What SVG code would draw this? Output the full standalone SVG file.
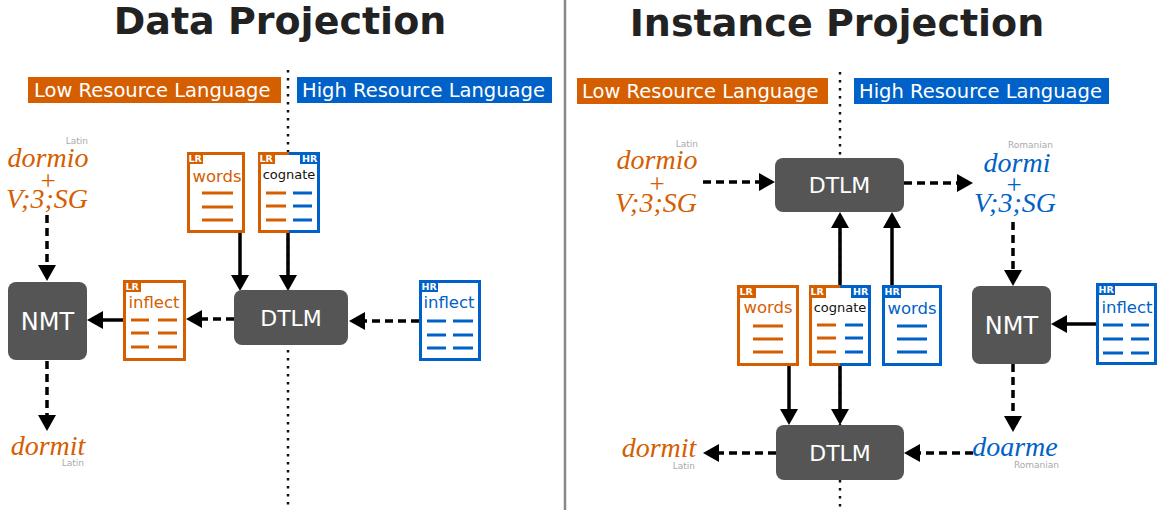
<svg xmlns="http://www.w3.org/2000/svg" width="1162" height="510" viewBox="0 0 1162 510">
<style>
.title{font-family:"DejaVu Sans",sans-serif;font-weight:bold;font-size:38px;fill:#222;text-anchor:middle}
.band{font-family:"DejaVu Sans",sans-serif;font-size:19.5px;fill:#fff}
.box{fill:#555;rx:8px}
.boxt{font-family:"DejaVu Sans",sans-serif;font-size:22px;fill:#fff;text-anchor:middle}
.it{font-family:"Liberation Serif",serif;font-style:italic;font-size:28px;text-anchor:middle}
.pl{font-family:"Liberation Serif",serif;font-size:27px;text-anchor:middle}
.o{fill:#D55E00}
.b{fill:#0062C8}
.lang{font-family:"DejaVu Sans",sans-serif;font-size:9px;fill:#aaa;text-anchor:end}
.doc{fill:#fff;stroke-width:3}
.so{stroke:#D55E00}
.sb{stroke:#0062C8}
.dl{stroke-width:3;fill:none}
.tag{font-family:"DejaVu Sans",sans-serif;font-weight:bold;font-size:9.5px;fill:#fff}
.dt{font-family:"DejaVu Sans",sans-serif;font-size:16.5px;text-anchor:middle}
.cg{font-family:"DejaVu Sans",sans-serif;font-size:13px;fill:#111;text-anchor:middle}
.dot{stroke:#111;stroke-width:2.5;stroke-dasharray:2.5 5.5;fill:none}
.a{stroke:#000;stroke-width:3.5;fill:none;marker-end:url(#ah)}
.d{stroke-dasharray:8 5}
</style>
<defs>
<marker id="ah" markerUnits="userSpaceOnUse" markerWidth="18" markerHeight="18" refX="1" refY="9" orient="auto" viewBox="0 0 18 18">
<path d="M0,0 L16,9 L0,18 z" fill="#000"/>
</marker>
</defs>

<!-- separators -->
<line x1="565" y1="0" x2="565" y2="510" stroke="#888" stroke-width="2.5"/>
<path class="dot" d="M288,70 V510"/>
<path class="dot" d="M840,72 V510"/>

<!-- titles -->
<text class="title" x="280" y="34">Data Projection</text>
<text class="title" x="837" y="36">Instance Projection</text>

<!-- language bands -->
<g id="bands">
<rect x="28" y="77" width="253" height="26" class="o"/>
<text class="band" x="34" y="97">Low Resource Language</text>
<rect x="297" y="77" width="255" height="26" class="b"/>
<text class="band" x="302" y="97">High Resource Language</text>
<rect x="577" y="78" width="251" height="26" class="o"/>
<text class="band" x="582" y="98">Low Resource Language</text>
<rect x="854" y="78" width="255" height="26" class="b"/>
<text class="band" x="859" y="98">High Resource Language</text>
</g>

<!-- connectors -->
<g id="connectors">
<path class="a d" d="M47,215 V266"/>
<path class="a d" d="M47,361 V416"/>
<path class="a" d="M124,320 H102"/>
<path class="a d" d="M234,319 H201"/>
<path class="a d" d="M419,321 H364"/>
<path class="a" d="M240,233 V276"/>
<path class="a" d="M288,233 V276"/>

<path class="a d" d="M703,182 H760"/>
<path class="a d" d="M904,183 H958"/>
<path class="a d" d="M1013,222 V271"/>
<path class="a" d="M1097,324 H1066"/>
<path class="a d" d="M1013,364 V417"/>
<path class="a d" d="M973,453 H919"/>
<path class="a d" d="M776,453 H718"/>
<path class="a" d="M789,366 V410"/>
<path class="a" d="M840,366 V410"/>
<path class="a" d="M840,285 V227"/>
<path class="a" d="M892,285 V227"/>
</g>

<!-- LEFT PANEL -->
<g id="l-dormio">
<text class="lang" x="88" y="144">Latin</text>
<text class="it o" x="48" y="167">dormio</text>
<text class="pl o" x="48" y="190">+</text>
<text class="it o" x="47" y="208">V;3;SG</text>
</g>
<g id="l-nmt">
<rect class="box" x="8" y="282" width="79" height="78"/>
<text class="boxt" x="47.5" y="330" style="font-size:24px">NMT</text>
</g>
<g id="l-dormit">
<text class="it o" x="48" y="455">dormit</text>
<text class="lang" x="84" y="466">Latin</text>
</g>
<g id="l-dtlm">
<rect class="box" x="234" y="290" width="114" height="55"/>
<text class="boxt" x="291" y="326">DTLM</text>
</g>
<g id="l-words">
<rect class="doc so" x="188.5" y="153.5" width="55" height="78"/>
<rect x="187" y="152" width="16" height="12" class="o"/>
<text class="tag" x="188.5" y="162">LR</text>
<text class="dt o" x="217" y="182">words</text>
<path class="dl so" d="M202,193 H233 M202,207 H233 M202,220 H233"/>
</g>
<g id="l-cognate">
<rect x="259.5" y="153.5" width="59" height="78" fill="#fff"/>
<path class="dl so" d="M289,153.5 H259.5 V231.5 H289"/>
<path class="dl sb" d="M289,153.5 H318.5 V231.5 H289"/>
<rect x="258" y="152" width="17" height="12" class="o"/>
<text class="tag" x="259.5" y="162">LR</text>
<rect x="300" y="152" width="20" height="12" class="b"/>
<text class="tag" x="302" y="162">HR</text>
<text class="cg" x="289" y="179">cognate</text>
<path class="dl so" d="M266,193 H286 M266,206 H286 M266,220 H286"/>
<path class="dl sb" d="M293,193 H312 M293,206 H312 M293,220 H312"/>
</g>
<g id="l-inflect-lr">
<rect class="doc so" x="124.5" y="281.5" width="60" height="78"/>
<rect x="124" y="281" width="17" height="11" class="o"/>
<text class="tag" x="125.5" y="290">LR</text>
<text class="dt o" x="154" y="308">inflect</text>
<path class="dl so" d="M131,320 H149 M131,333 H149 M131,347 H149 M158,320 H177 M158,333 H177 M158,347 H177"/>
</g>
<g id="l-inflect-hr">
<rect class="doc sb" x="420.5" y="281.5" width="59" height="78"/>
<rect x="420" y="281" width="18" height="11" class="b"/>
<text class="tag" x="421.5" y="290">HR</text>
<text class="dt b" x="449" y="308">inflect</text>
<path class="dl sb" d="M427,321 H446 M427,335 H446 M427,348 H446 M453,321 H473 M453,335 H473 M453,348 H473"/>
</g>

<!-- RIGHT PANEL -->
<g id="r-dormio">
<text class="lang" x="698" y="147">Latin</text>
<text class="it o" x="657" y="169">dormio</text>
<text class="pl o" x="657" y="193">+</text>
<text class="it o" x="656" y="212">V;3;SG</text>
</g>
<g id="r-dtlm-top">
<rect class="box" x="775" y="158" width="129" height="54"/>
<text class="boxt" x="839.5" y="193">DTLM</text>
</g>
<g id="r-dormi">
<text class="lang" x="1053" y="148">Romanian</text>
<text class="it b" x="1017" y="172">dormi</text>
<text class="pl b" x="1014" y="194">+</text>
<text class="it b" x="1015" y="212">V;3;SG</text>
</g>
<g id="r-nmt">
<rect class="box" x="972" y="286" width="79" height="78"/>
<text class="boxt" x="1011.5" y="334" style="font-size:24px">NMT</text>
</g>
<g id="r-inflect-hr">
<rect class="doc sb" x="1097.5" y="284.5" width="58" height="79"/>
<rect x="1097" y="284" width="18" height="11" class="b"/>
<text class="tag" x="1098.5" y="293">HR</text>
<text class="dt b" x="1127" y="313">inflect</text>
<path class="dl sb" d="M1103,325 H1123 M1103,339 H1123 M1103,353 H1123 M1131,325 H1149 M1131,339 H1149 M1131,353 H1149"/>
</g>
<g id="r-doarme">
<text class="it b" x="1015" y="456">doarme</text>
<text class="lang" x="1059" y="468">Romanian</text>
</g>
<g id="r-dtlm-bottom">
<rect class="box" x="776" y="425" width="128" height="55"/>
<text class="boxt" x="840" y="461">DTLM</text>
</g>
<g id="r-dormit">
<text class="it o" x="659" y="457">dormit</text>
<text class="lang" x="695" y="469">Latin</text>
</g>
<g id="r-words-lr">
<rect class="doc so" x="738.5" y="286.5" width="59" height="78"/>
<rect x="738" y="286" width="18" height="12" class="o"/>
<text class="tag" x="739.5" y="295">LR</text>
<text class="dt o" x="768" y="313">words</text>
<path class="dl so" d="M753,326 H783 M753,339 H783 M753,352 H783"/>
</g>
<g id="r-cognate">
<rect x="810.5" y="286.5" width="59" height="78" fill="#fff"/>
<path class="dl so" d="M840,286.5 H810.5 V364.5 H840"/>
<path class="dl sb" d="M840,286.5 H869.5 V364.5 H840"/>
<rect x="809" y="286" width="17" height="12" class="o"/>
<text class="tag" x="810.5" y="295">LR</text>
<rect x="851" y="286" width="20" height="12" class="b"/>
<text class="tag" x="853" y="295">HR</text>
<text class="cg" x="840" y="312">cognate</text>
<path class="dl so" d="M817,325 H836 M817,338 H836 M817,352 H836"/>
<path class="dl sb" d="M845,325 H863 M845,338 H863 M845,352 H863"/>
</g>
<g id="r-words-hr">
<rect class="doc sb" x="883.5" y="286.5" width="57" height="78"/>
<rect x="883" y="286" width="18" height="12" class="b"/>
<text class="tag" x="884.5" y="295">HR</text>
<text class="dt b" x="912" y="314">words</text>
<path class="dl sb" d="M897,326 H927 M897,339 H927 M897,352 H927"/>
</g>
</svg>
